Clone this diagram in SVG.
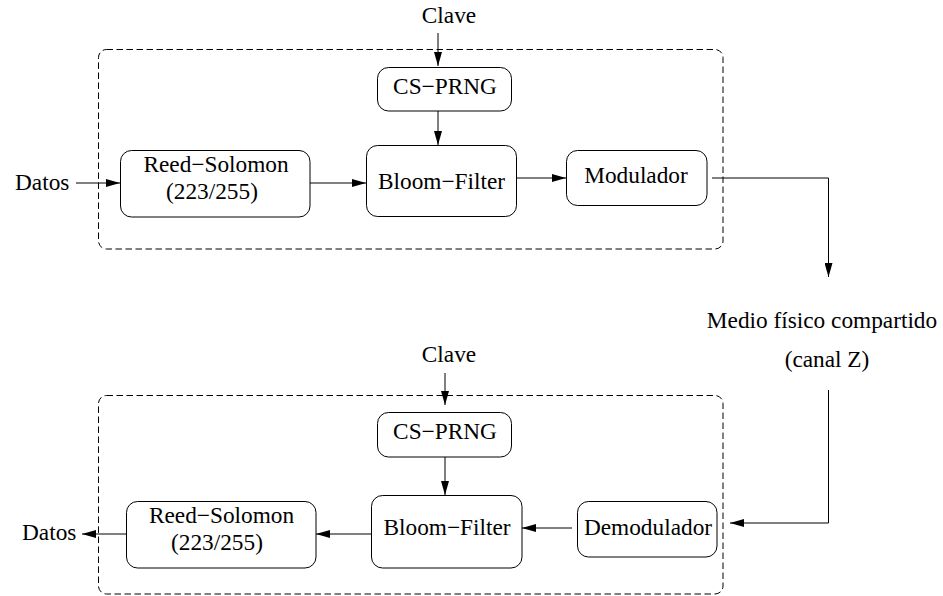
<svg xmlns="http://www.w3.org/2000/svg" width="943" height="596" viewBox="0 0 943 596">
  <style>
    text { font-family: "Liberation Serif", "Times New Roman", serif; font-size: 23.3px; fill: #000; }
    .c { text-anchor: middle; }
    .box { fill: #fff; stroke: #000; stroke-width: 1; }
    .frame { fill: none; stroke: #000; stroke-width: 1; stroke-dasharray: 6.5 3.5; }
    .wire { fill: none; stroke: #000; stroke-width: 1; }
    .arr { marker-end: url(#head); }
  </style>
  <defs>
    <marker id="head" markerUnits="userSpaceOnUse" markerWidth="14" markerHeight="8" refX="14" refY="4" orient="auto">
      <path d="M0,0 L14,4 L0,8 z" fill="#000"/>
    </marker>
  </defs>
  <rect width="943" height="596" fill="#fff"/>

  <!-- transmitter and receiver enclosures -->
  <g id="tx-frame"><rect class="frame" x="98.5" y="49.5" width="624.5" height="199.5" rx="8"/></g>
  <g id="rx-frame"><rect class="frame" x="98.5" y="395.5" width="624.5" height="198.5" rx="8"/></g>

  <!-- connectors -->
  <g id="connectors">
    <line class="wire arr" x1="76" y1="183" x2="120" y2="183"/>
    <line class="wire arr" x1="310" y1="183" x2="366" y2="183"/>
    <line class="wire arr" x1="516" y1="178" x2="566" y2="178"/>
    <line class="wire arr" x1="438" y1="33" x2="438" y2="66"/>
    <line class="wire arr" x1="438" y1="111" x2="438" y2="145"/>
    <polyline class="wire arr" points="712,178 828.5,178 828.5,277"/>

    <line class="wire arr" x1="445" y1="373" x2="445" y2="405"/>
    <line class="wire arr" x1="445" y1="457" x2="445" y2="495"/>
    <polyline class="wire arr" points="828.5,390 828.5,523 730,523"/>
    <line class="wire arr" x1="572" y1="528" x2="522" y2="528"/>
    <line class="wire arr" x1="371" y1="534" x2="316" y2="534"/>
    <line class="wire arr" x1="126" y1="534" x2="82" y2="534"/>
  </g>

  <!-- transmitter side -->
  <g id="tx-datos"><text x="15" y="190">Datos</text></g>
  <g id="tx-clave"><text class="c" x="449" y="23">Clave</text></g>
  <g id="tx-prng">
    <rect class="box" x="377.5" y="67.5" width="134" height="43.5" rx="11"/>
    <text class="c" x="445" y="94">CS−PRNG</text>
  </g>
  <g id="tx-rs">
    <rect class="box" x="120.5" y="150.5" width="189.5" height="66.5" rx="11"/>
    <text class="c" x="216" y="172">Reed−Solomon</text>
    <text class="c" x="212" y="199">(223/255)</text>
  </g>
  <g id="tx-bloom">
    <rect class="box" x="366.5" y="145.5" width="150" height="71" rx="11"/>
    <text class="c" x="441.5" y="189">Bloom−Filter</text>
  </g>
  <g id="tx-mod">
    <rect class="box" x="566.5" y="150.5" width="140.5" height="55" rx="11"/>
    <text class="c" x="636" y="183">Modulador</text>
  </g>

  <!-- shared channel -->
  <g id="canal">
    <text class="c" x="822" y="328">Medio físico compartido</text>
    <text class="c" x="827" y="367">(canal Z)</text>
  </g>

  <!-- receiver side -->
  <g id="rx-clave"><text class="c" x="449" y="362">Clave</text></g>
  <g id="rx-prng">
    <rect class="box" x="377.5" y="412.5" width="134" height="44.5" rx="11"/>
    <text class="c" x="445" y="439">CS−PRNG</text>
  </g>
  <g id="rx-bloom">
    <rect class="box" x="371.5" y="495.5" width="150.5" height="72.5" rx="11"/>
    <text class="c" x="447" y="535">Bloom−Filter</text>
  </g>
  <g id="rx-demod">
    <rect class="box" x="577.5" y="501.5" width="139.5" height="55.5" rx="11"/>
    <text class="c" x="648" y="535">Demodulador</text>
  </g>
  <g id="rx-rs">
    <rect class="box" x="126.5" y="501.5" width="189.5" height="66.5" rx="11"/>
    <text class="c" x="221.5" y="523">Reed−Solomon</text>
    <text class="c" x="217" y="550">(223/255)</text>
  </g>
  <g id="rx-datos"><text x="22" y="540">Datos</text></g>
</svg>
